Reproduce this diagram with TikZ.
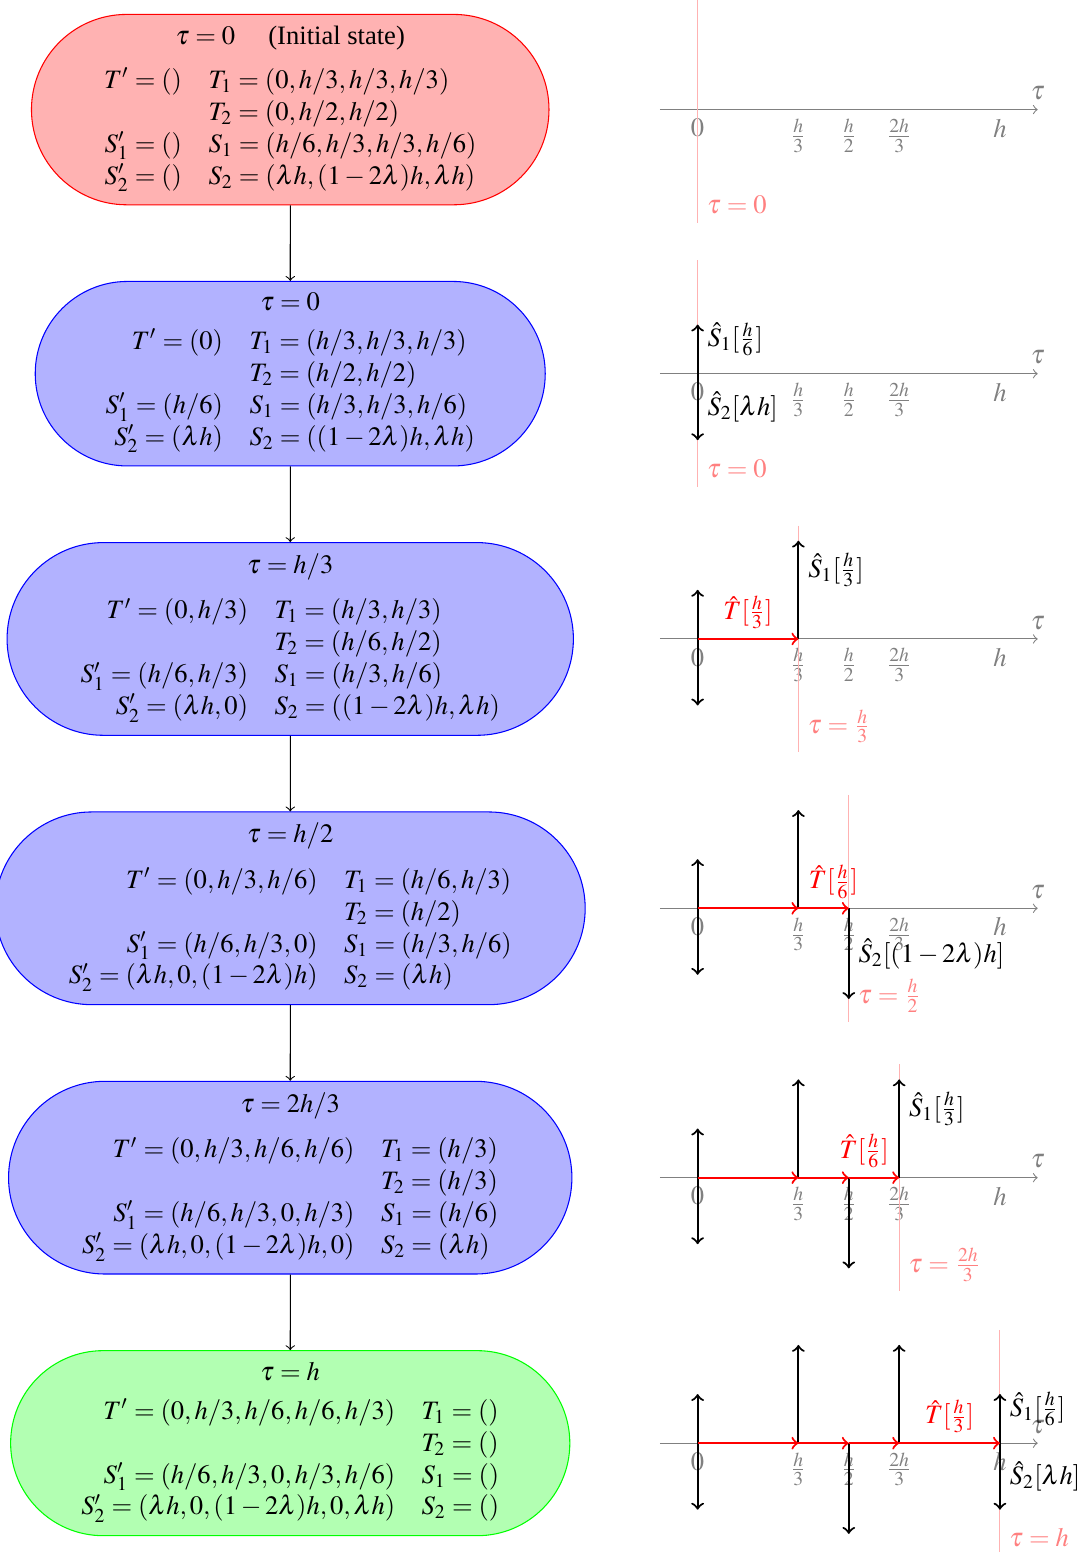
\documentclass[tikz,border=0pt]{standalone}
\usepackage{mathptmx}
\usepackage[no-math]{fontspec}
\setmainfont{Liberation Serif}
\usetikzlibrary{positioning,shapes.misc}

\tikzset{
  state/.style={rounded rectangle, draw=blue, fill=blue!30, align=center, inner ysep=4.2pt},
  sarrow/.style={->, thick, black},
  tarrow/.style={->, thick, red},
  nowline/.style={red!30},
  nowlabel/.style={red!50, above right},
  ticklabel/.style={gray, below},
}

% time axis, h = 4cm
\newcommand{\timeaxis}[1]{%
  \draw[gray,->] (-0.5,0) -- (4.5,0) node[above] (#1tau) {$\tau$};
  \foreach \x/\lab [count=\i] in {0/0, 1.3333/\frac{h}{3}, 2/\frac{h}{2},
      2.6667/\frac{2h}{3}, 4/h}
    \node[ticklabel] (#1tick\i) at (\x,0) {$\lab$};
}

\begin{document}
\begin{tikzpicture}[node distance=1cm]
    % states
    \node[state, draw=red, fill=red!30] (s0) {$\tau = 0$ \quad (Initial state)\\[5.2pt]
        $\begin{array}{rl}
        T' = () & T_1 = (0, h/3, h/3, h/3)\\
                & T_2 = (0, h/2, h/2)\\
        S'_1 = () & S_1 = (h/6, h/3, h/3, h/6)\\
        S'_2 = () & S_2 = (\lambda h, (1-2\lambda)h, \lambda h)
        \end{array}$};
    \node[state, below=of s0] (s1) {$\tau = 0$\\[5.2pt]
        $\begin{array}{rl}
        T' = (0) & T_1 = (h/3, h/3, h/3)\\
                 & T_2 = (h/2, h/2)\\
        S'_1 = (h/6) & S_1 = (h/3, h/3, h/6)\\
        S'_2 = (\lambda h) & S_2 = ((1-2\lambda)h, \lambda h)
        \end{array}$};
    \node[state, below=of s1] (s2) {$\tau = h/3$\\[5.2pt]
        $\begin{array}{rl}
        T' = (0, h/3) & T_1 = (h/3, h/3)\\
                      & T_2 = (h/6, h/2)\\
        S'_1 = (h/6, h/3) & S_1 = (h/3, h/6)\\
        S'_2 = (\lambda h, 0) & S_2 = ((1-2\lambda)h, \lambda h)
        \end{array}$};
    \node[state, below=of s2] (s3) {$\tau = h/2$\\[5.2pt]
        $\begin{array}{rl}
        T' = (0, h/3, h/6) & T_1 = (h/6, h/3)\\
                           & T_2 = (h/2)\\
        S'_1 = (h/6, h/3, 0) & S_1 = (h/3, h/6)\\
        S'_2 = (\lambda h, 0, (1-2\lambda)h) & S_2 = (\lambda h)
        \end{array}$};
    \node[state, below=of s3] (s4) {$\tau = 2h/3$\\[5.2pt]
        $\begin{array}{rl}
        T' = (0, h/3, h/6, h/6) & T_1 = (h/3)\\
                                & T_2 = (h/3)\\
        S'_1 = (h/6, h/3, 0, h/3) & S_1 = (h/6)\\
        S'_2 = (\lambda h, 0, (1-2\lambda)h, 0) & S_2 = (\lambda h)
        \end{array}$};
    \node[state, draw=green, fill=green!30, below=of s4] (s5) {$\tau = h$\\[5.2pt]
        $\begin{array}{rl}
        T' = (0, h/3, h/6, h/6, h/3) & T_1 = ()\\
                                     & T_2 = ()\\
        S'_1 = (h/6, h/3, 0, h/3, h/6) & S_1 = ()\\
        S'_2 = (\lambda h, 0, (1-2\lambda)h, 0, \lambda h) & S_2 = ()
        \end{array}$};
    \foreach \a/\b in {s0/s1, s1/s2, s2/s3, s3/s4, s4/s5}
        \draw[->] (\a) -- (\b);

    % timelines
    \begin{scope}[shift={(s0.center)}, xshift=5.39cm]
        \timeaxis{a}
        \draw[nowline] (0,1.5) -- (0,-1.5) node[nowlabel] (anow) {$\tau = 0$};
    \end{scope}
    \begin{scope}[shift={(s1.center)}, xshift=5.39cm]
        \timeaxis{b}
        \draw[nowline] (0,1.5) -- (0,-1.5) node[nowlabel] (bnow) {$\tau = 0$};
        \draw[sarrow] (0,0) -- (0,0.65) node[pos=0.7,right] (bs1) {$\hat{S}_1[\frac{h}{6}]$};
        \draw[sarrow] (0,0) -- (0,-0.88) node[midway,right] (bs2) {$\hat{S}_2[\lambda h]$};
    \end{scope}
    \begin{scope}[shift={(s2.center)}, xshift=5.39cm]
        \timeaxis{c}
        \draw[nowline] (4/3,1.5) -- (4/3,-1.5) node[nowlabel] (cnow) {$\tau = \frac{h}{3}$};
        \draw[sarrow] (0,0) -- (0,0.65);
        \draw[sarrow] (0,0) -- (0,-0.88);
        \draw[sarrow] (4/3,0) -- (4/3,1.3) node[pos=0.7,right] (cs1) {$\hat{S}_1[\frac{h}{3}]$};
        \draw[tarrow] (0,0) -- (4/3,0) node[midway,above] (ct) {$\hat{T}[\frac{h}{3}]$};
    \end{scope}
    \begin{scope}[shift={(s3.center)}, xshift=5.39cm]
        \timeaxis{d}
        \draw[nowline] (2,1.5) -- (2,-1.5) node[nowlabel] (dnow) {$\tau = \frac{h}{2}$};
        \draw[sarrow] (0,0) -- (0,0.65);
        \draw[sarrow] (0,0) -- (0,-0.88);
        \draw[sarrow] (4/3,0) -- (4/3,1.3);
        \draw[sarrow] (2,0) -- (2,-1.2) node[midway,right] (ds2) {$\hat{S}_2[(1-2\lambda)h]$};
        \draw[tarrow] (0,0) -- (4/3,0);
        \draw[tarrow] (4/3,0) -- (2,0) node[midway,above,xshift=0.13cm] (dt) {$\hat{T}[\frac{h}{6}]$};
    \end{scope}
    \begin{scope}[shift={(s4.center)}, xshift=5.39cm]
        \timeaxis{e}
        \draw[nowline] (8/3,1.5) -- (8/3,-1.5) node[nowlabel] (enow) {$\tau = \frac{2h}{3}$};
        \draw[sarrow] (0,0) -- (0,0.65);
        \draw[sarrow] (0,0) -- (0,-0.88);
        \draw[sarrow] (4/3,0) -- (4/3,1.3);
        \draw[sarrow] (2,0) -- (2,-1.2);
        \draw[sarrow] (8/3,0) -- (8/3,1.3) node[pos=0.7,right] (es1) {$\hat{S}_1[\frac{h}{3}]$};
        \draw[tarrow] (0,0) -- (4/3,0);
        \draw[tarrow] (4/3,0) -- (2,0);
        \draw[tarrow] (2,0) -- (8/3,0) node[midway,above,xshift=-0.13cm] (et) {$\hat{T}[\frac{h}{6}]$};
    \end{scope}
    \begin{scope}[shift={(s5.center)}, xshift=5.39cm]
        \timeaxis{f}
        \draw[nowline] (4,1.5) -- (4,-1.5) node[nowlabel] (fnow) {$\tau = h$};
        \draw[sarrow] (0,0) -- (0,0.65);
        \draw[sarrow] (0,0) -- (0,-0.88);
        \draw[sarrow] (4/3,0) -- (4/3,1.3);
        \draw[sarrow] (2,0) -- (2,-1.2);
        \draw[sarrow] (8/3,0) -- (8/3,1.3);
        \draw[sarrow] (4,0) -- (4,0.65) node[pos=0.7,right] (fs1) {$\hat{S}_1[\frac{h}{6}]$};
        \draw[sarrow] (4,0) -- (4,-0.88) node[midway,right] (fs2) {$\hat{S}_2[\lambda h]$};
        \draw[tarrow] (0,0) -- (4/3,0);
        \draw[tarrow] (4/3,0) -- (2,0);
        \draw[tarrow] (2,0) -- (8/3,0);
        \draw[tarrow] (8/3,0) -- (4,0) node[midway,above] (ft) {$\hat{T}[\frac{h}{3}]$};
    \end{scope}

    \pgfresetboundingbox
    \useasboundingbox ([xshift=-3.84cm,yshift=1.45cm]s0.center)
        rectangle ([xshift=10.56cm,yshift=-1.44cm]s5.center);
\end{tikzpicture}
\end{document}
